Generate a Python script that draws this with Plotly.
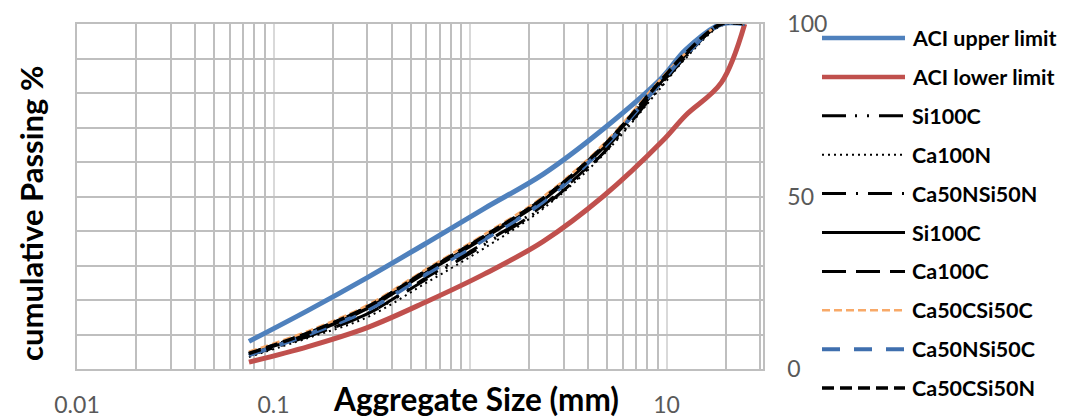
import plotly.graph_objects as go

# ---------------- data ----------------
sieve_mm = [0.075, 0.15, 0.3, 0.6, 1.18, 2.36, 4.75, 9.5, 12.5, 19, 25]

aci_upper = [8, 17, 26.5, 36.5, 46.5, 56.5, 69.5, 84.5, 92.5, 100, 100]
aci_lower = [2, 6.5, 12, 19.5, 27.5, 37, 50, 66, 73.5, 83, 100]

si100c_a = [4, 9.5, 16, 26, 36, 47, 62.5, 82.5, 90.5, 100, 100]
ca100n = [3.5, 9, 15, 25, 35, 46.5, 62, 82, 90, 99.5, 100]
ca50nsi50n = [4, 9.5, 16, 26.5, 36.5, 47.5, 63, 83, 90.5, 100, 100]
si100c_b = [4.5, 10, 17.5, 28, 38, 49, 64, 83.5, 91, 100, 100]
ca100c = [4.5, 10.5, 18, 28.5, 38.5, 49.5, 64.5, 84, 91, 100, 100]
ca50csi50c = [5, 11, 18.5, 29, 39, 50, 65, 84.5, 91.5, 100, 100]
ca50nsi50c = [4, 10, 17, 27.5, 37.5, 48.5, 64, 83.5, 91, 100, 100]
ca50csi50n = [4.5, 10.5, 18, 28.5, 38.5, 49.5, 64.5, 84, 91.5, 100, 100]

series_names = ["ACI upper limit", "ACI lower limit", "Si100C", "Ca100N", "Ca50NSi50N",
                "Si100C", "Ca100C", "Ca50CSi50C", "Ca50NSi50C", "Ca50CSi50N"]
series_values = [aci_upper, aci_lower, si100c_a, ca100n, ca50nsi50n,
                 si100c_b, ca100c, ca50csi50c, ca50nsi50c, ca50csi50n]

x_tick_vals = [0.01, 0.1, 1, 10]
x_tick_text = ["0.01", "0.1", "", "10"]   # the "1" label is hidden behind the axis title
y_tick_vals = [0, 10, 20, 30, 40, 50, 60, 70, 80, 90, 100]
y_tick_text = ["0", "", "", "", "", "50", "", "", "", "", "100"]

# ---------------- styles ----------------
styles = [
    dict(color="#4F81BD", width=5, dash="solid"),
    dict(color="#C0504D", width=5, dash="solid"),
    dict(color="#000000", width=3, dash="24px,9px,2px,10px,2px,10px"),
    dict(color="#000000", width=2, dash="2px,4px"),
    dict(color="#000000", width=3, dash="24px,10px,2px,10px"),
    dict(color="#000000", width=3, dash="solid"),
    dict(color="#000000", width=3, dash="24px,10px"),
    dict(color="#F8A968", width=2.5, dash="8px,4px"),
    dict(color="#3F6FAE", width=4, dash="18px,14px"),
    dict(color="#000000", width=3.5, dash="12px,6px"),
]

FONT = "Lato"
W, H = 1065, 417
L, R, T, B = 77, 302, 24, 48
PW, PH = W - L - R, H - T - B

fig = go.Figure()
for name, vals, st in zip(series_names, series_values, styles):
    fig.add_trace(go.Scatter(
        x=sieve_mm, y=vals, name=name, mode="lines",
        line=dict(color=st["color"], width=st["width"], dash=st["dash"],
                  shape="spline", smoothing=1.0),
        showlegend=False,
    ))

minor_vals = [k * 10 ** p for p in range(-2, 2) for k in range(2, 10) if k * 10 ** p <= 31]

fig.update_xaxes(
    type="log", range=[-2, 1.491],
    tickvals=x_tick_vals, ticktext=x_tick_text,
    tickfont=dict(family=FONT, size=23, color="#595959"),
    ticklabelstandoff=15,
    showgrid=True, gridcolor="#D9D9D9", gridwidth=1.5,
    minor=dict(tickvals=minor_vals, showgrid=True, gridcolor="#BFBFBF", gridwidth=1.5),
    showline=True, linecolor="#BFBFBF", linewidth=1.5, mirror=True,
    zeroline=False, ticks="",
)
fig.update_yaxes(
    range=[0, 100], side="right",
    tickvals=y_tick_vals, ticktext=y_tick_text,
    tickfont=dict(family=FONT, size=23, color="#595959"),
    ticklabelstandoff=18,
    showgrid=True, gridcolor="#BFBFBF", gridwidth=1.5,
    showline=True, linecolor="#BFBFBF", linewidth=1.5, mirror=True,
    zeroline=False, ticks="",
)

annotations = [
    dict(text="<b>Aggregate Size (mm)</b>", xref="paper", yref="paper",
         x=(476 - L) / PW, y=-(399 - (H - B)) / PH, xanchor="center", yanchor="middle",
         showarrow=False, bgcolor="white",
         font=dict(family=FONT, size=31.5, color="black")),
    dict(text="<b>cumulative Passing %</b>", xref="paper", yref="paper",
         x=(31 - L) / PW, y=((H - B) - 214) / PH, xanchor="center", yanchor="middle",
         textangle=-90, showarrow=False,
         font=dict(family=FONT, size=31, color="black")),
]

# manual legend (long line samples like the original)
shapes = []
leg_x0, leg_x1, leg_tx = 822, 905, 910
leg_y0, leg_step = 38, 38.9
for i, (name, st) in enumerate(zip(series_names, styles)):
    py = leg_y0 + i * leg_step
    yp = ((H - B) - py) / PH
    shapes.append(dict(type="line", xref="paper", yref="paper",
                       x0=(leg_x0 - L) / PW, x1=(leg_x1 - L) / PW, y0=yp, y1=yp,
                       line=dict(color=st["color"], width=min(st["width"], 4.5), dash=st["dash"])))
    annotations.append(dict(text="<b>%s</b>" % name, xref="paper", yref="paper",
                            x=(leg_tx - L) / PW, y=yp, xanchor="left", yanchor="middle",
                            showarrow=False, font=dict(family=FONT, size=21.5, color="black")))

fig.update_layout(
    width=W, height=H,
    margin=dict(l=L, r=R, t=T, b=B, autoexpand=False),
    paper_bgcolor="white", plot_bgcolor="white",
    showlegend=False,
    annotations=annotations, shapes=shapes,
)

fig.write_html("out.html", config={"displayModeBar": False},
               post_script="document.body.style.margin='0px';document.body.style.overflow='hidden';")
